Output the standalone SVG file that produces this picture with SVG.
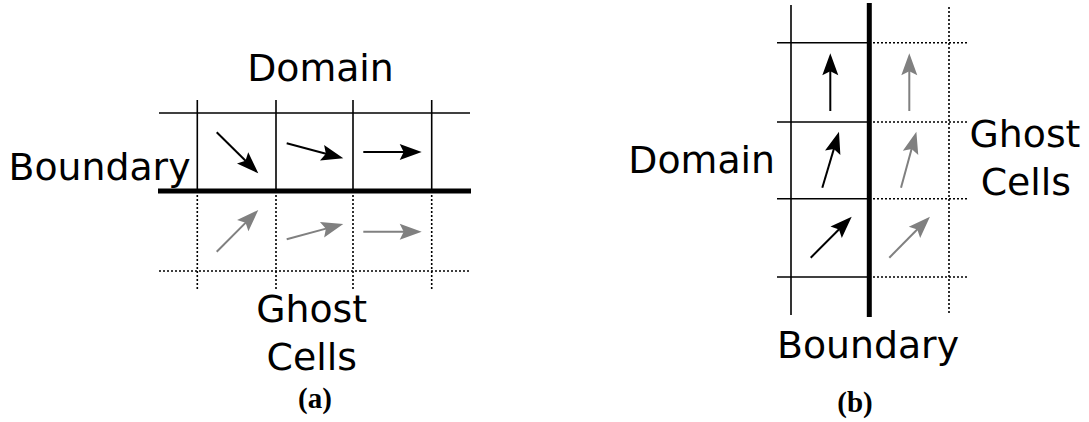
<svg xmlns="http://www.w3.org/2000/svg" width="1089" height="422" viewBox="0 0 1089 422">
<style>
.solid{stroke:#000;stroke-width:1.6;fill:none}
.thick{stroke:#000;stroke-width:5;fill:none}
.dot{stroke:#000;stroke-width:1.6;stroke-dasharray:2 2;fill:none}
.ab{stroke:#000;stroke-width:2;fill:none;marker-end:url(#hb)}
.ag{stroke:#808080;stroke-width:2;fill:none;marker-end:url(#hg)}
.lbl{font-family:"DejaVu Sans",Verdana,sans-serif;font-size:37.8px;fill:#000;text-anchor:middle}
.cap{font-family:"Liberation Serif","Times New Roman",serif;font-weight:bold;font-size:29px;fill:#000;text-anchor:middle}
</style>
<defs>
<marker id="hb" markerUnits="userSpaceOnUse" markerWidth="30" markerHeight="30" refX="0" refY="0" viewBox="-10 -10 30 20" orient="auto" overflow="visible">
<path d="M15,0 L-7,-8 L-3,0 L-7,8 Z" fill="#000"/>
</marker>
<marker id="hg" markerUnits="userSpaceOnUse" markerWidth="30" markerHeight="30" refX="0" refY="0" viewBox="-10 -10 30 20" orient="auto" overflow="visible">
<path d="M15,0 L-7,-8 L-3,0 L-7,8 Z" fill="#808080"/>
</marker>
</defs>
<rect width="1089" height="422" fill="#fff"/>
<g id="panel-a">
<g id="grid-a">
<line class="solid" x1="159" y1="113" x2="470" y2="113"/>
<line class="solid" x1="197.3" y1="100" x2="197.3" y2="191"/>
<line class="solid" x1="276" y1="100" x2="276" y2="191"/>
<line class="solid" x1="353" y1="100" x2="353" y2="191"/>
<line class="solid" x1="431.7" y1="100" x2="431.7" y2="191"/>
<line class="dot" x1="197.3" y1="191" x2="197.3" y2="289"/>
<line class="dot" x1="276" y1="191" x2="276" y2="289"/>
<line class="dot" x1="353" y1="191" x2="353" y2="289"/>
<line class="dot" x1="431.7" y1="191" x2="431.7" y2="289"/>
<line class="dot" x1="159" y1="271" x2="471" y2="271"/>
<line class="thick" x1="158" y1="191" x2="471" y2="191"/>
</g>
<g id="arrows-a">
<line class="ab" x1="216.7" y1="132.3" x2="247.6" y2="162.8"/>
<line class="ab" x1="286.7" y1="143.3" x2="328.8" y2="154.5"/>
<line class="ab" x1="363.3" y1="152" x2="406.7" y2="152"/>
<line class="ag" x1="216.7" y1="251.7" x2="247.7" y2="220.6"/>
<line class="ag" x1="286.7" y1="239.3" x2="328.8" y2="227.9"/>
<line class="ag" x1="363.3" y1="231.7" x2="406.7" y2="231.7"/>
</g>
<g id="labels-a">
<text class="lbl" x="320.5" y="80.5">Domain</text>
<text class="lbl" x="99.5" y="180">Boundary</text>
<text class="lbl" x="311.7" y="321.7">Ghost</text>
<text class="lbl" x="311.7" y="370">Cells</text>
<text class="cap" x="315" y="408">(a)</text>
</g>
</g>
<g id="panel-b">
<g id="grid-b">
<line class="solid" x1="791" y1="5" x2="791" y2="315"/>
<line class="dot" x1="949" y1="7" x2="949" y2="315"/>
<line class="solid" x1="777" y1="42.7" x2="869" y2="42.7"/>
<line class="solid" x1="777" y1="122" x2="869" y2="122"/>
<line class="solid" x1="777" y1="198.7" x2="869" y2="198.7"/>
<line class="solid" x1="777" y1="277" x2="869" y2="277"/>
<line class="dot" x1="869" y1="42.7" x2="967" y2="42.7"/>
<line class="dot" x1="869" y1="122" x2="967" y2="122"/>
<line class="dot" x1="869" y1="198.7" x2="967" y2="198.7"/>
<line class="dot" x1="869" y1="277" x2="967" y2="277"/>
<line class="thick" x1="869.3" y1="3" x2="869.3" y2="317"/>
</g>
<g id="arrows-b">
<line class="ab" x1="830.3" y1="111" x2="830.3" y2="68.3"/>
<line class="ab" x1="822.3" y1="187.7" x2="834.7" y2="146.1"/>
<line class="ab" x1="810.7" y1="257.7" x2="841.1" y2="227.3"/>
<line class="ag" x1="909.3" y1="111" x2="909.3" y2="68.3"/>
<line class="ag" x1="901" y1="187.7" x2="912.4" y2="146.1"/>
<line class="ag" x1="889.3" y1="257.7" x2="919.4" y2="227.3"/>
</g>
<g id="labels-b">
<text class="lbl" x="701.7" y="173.3">Domain</text>
<text class="lbl" x="868" y="358.3">Boundary</text>
<text class="lbl" x="1025" y="146.7">Ghost</text>
<text class="lbl" x="1025.8" y="195">Cells</text>
<text class="cap" x="855" y="412">(b)</text>
</g>
</g>
</svg>
